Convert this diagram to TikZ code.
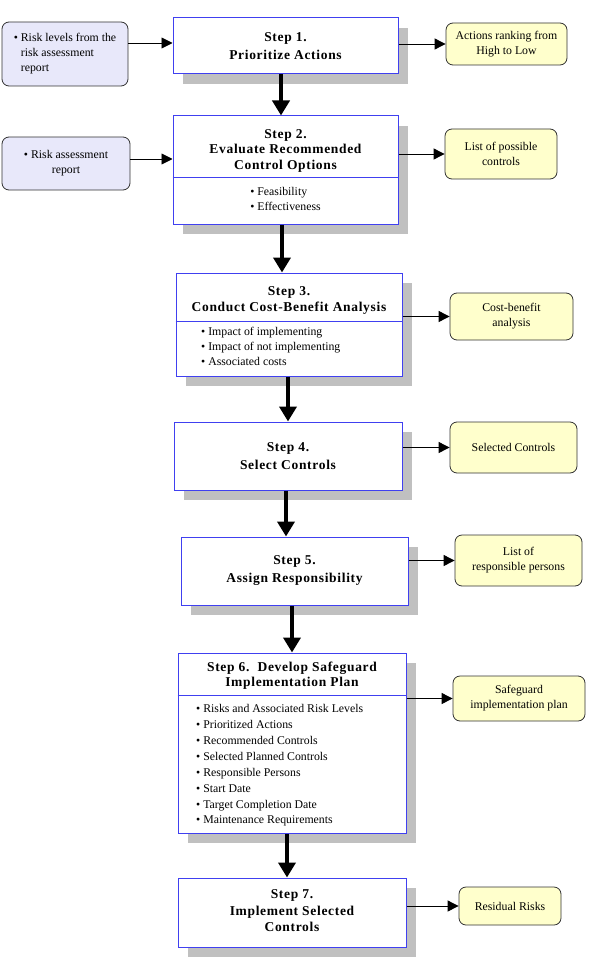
\documentclass[tikz,border=0pt]{standalone}
\usepackage{fontspec}
\setmainfont{Liberation Serif}
\usetikzlibrary{arrows.meta,shadows}
\definecolor{stepblue}{RGB}{64,64,240}
\definecolor{shadowgray}{RGB}{192,192,192}
\definecolor{infill}{RGB}{232,232,250}
\definecolor{outfill}{RGB}{255,255,204}
\definecolor{boxline}{RGB}{50,50,50}
\newfontfamily\titlefam[LetterSpace=5]{Liberation Serif}
\begin{document}
\begin{tikzpicture}[x=1pt,y=-1pt,
  stepbox/.style={draw=stepblue,line width=1pt,fill=white,inner sep=0pt,align=center,
    drop shadow={shadow xshift=10pt,shadow yshift=-10pt,fill=shadowgray,opacity=1}},
  titlefont/.style={font=\titlefam\fontsize{13.5}{#1}\selectfont\bfseries},
  titletext/.style={align=center,inner sep=0pt,font=\titlefam\fontsize{13.5}{#1}\selectfont\bfseries},
  listtext/.style={align=left,inner sep=0pt,font=\fontsize{11.8}{#1}\selectfont},
  inbox/.style={draw=boxline,line width=0.8pt,fill=infill,rounded corners=7pt,inner sep=0pt,
    font=\fontsize{11.8}{15}\selectfont},
  outbox/.style={draw=boxline,line width=0.8pt,fill=outfill,rounded corners=7pt,inner sep=0pt,
    align=center,font=\fontsize{11.8}{15}\selectfont},
  divider/.style={draw=stepblue,line width=1pt},
  bigarrow/.style={line width=4pt,-{Triangle[width=17pt,length=15pt]}},
  thinarrow/.style={line width=0.9pt,-{Triangle[width=11pt,length=11pt]}}
]
\useasboundingbox (0,0) rectangle (589,960);

% step boxes
\node[stepbox,minimum width=225pt,minimum height=56pt,titlefont=18] (s1) at (285.5,46) {Step 1.\\Prioritize Actions};
\node[stepbox,minimum width=225pt,minimum height=108pt] (s2) at (285.5,170) {};
\node[stepbox,minimum width=226pt,minimum height=103pt] (s3) at (289,324.5) {};
\node[stepbox,minimum width=228pt,minimum height=68pt,titlefont=18] (s4) at (288,456) {Step 4.\\Select Controls};
\node[stepbox,minimum width=227pt,minimum height=68pt,titlefont=18] (s5) at (294.5,571) {Step 5.\\Assign Responsibility};
\node[stepbox,minimum width=228pt,minimum height=180pt] (s6) at (292,743) {};
\node[stepbox,minimum width=228pt,minimum height=69pt] (s7) at (292,912.5) {};

% step contents
\node[titletext=15.5] (t2) at (285.5,150.5) {Step 2.\\Evaluate Recommended\\Control Options};
\draw[divider] (s2.west |- 0,178) -- (s2.east |- 0,178);
\node[listtext=15] (l2) at (285.5,198.5) {\textbullet\ Feasibility\\\textbullet\ Effectiveness};

\node[titletext=16] (t3) at (289,300) {Step 3.\\Conduct Cost-Benefit Analysis};
\draw[divider] (s3.west |- 0,321) -- (s3.east |- 0,321);
\node[listtext=15,anchor=west] (l3) at (201,346) {\textbullet\ Impact of implementing\\\textbullet\ Impact of not implementing\\\textbullet\ Associated costs};

\node[titletext=15] (t6) at (292,675.5) {Step 6.\ \ Develop Safeguard\\Implementation Plan};
\draw[divider] (s6.west |- 0,695) -- (s6.east |- 0,695);
\node[listtext=15.9,anchor=west] (l6) at (196,765.5) {\textbullet\ Risks and Associated Risk Levels\\\textbullet\ Prioritized Actions\\\textbullet\ Recommended Controls\\\textbullet\ Selected Planned Controls\\\textbullet\ Responsible Persons\\\textbullet\ Start Date\\\textbullet\ Target Completion Date\\\textbullet\ Maintenance Requirements};

\node[titletext=16.5] (t7) at (292,911) {Step 7.\\Implement Selected\\Controls};

% input boxes
\node[inbox,minimum width=126pt,minimum height=64pt,align=left] (in1) at (65,54) {\textbullet\ Risk levels from the\\\hphantom{\textbullet\ }risk assessment\\\hphantom{\textbullet\ }report};
\node[inbox,minimum width=128pt,minimum height=53pt,align=center] (in2) at (66,163.5) {\textbullet\ Risk assessment\\report};

% output boxes
\node[outbox,minimum width=121pt,minimum height=42pt] (o1) at (506.5,44) {Actions ranking from\\High to Low};
\node[outbox,minimum width=112pt,minimum height=50pt] (o2) at (501,154) {List of possible\\controls};
\node[outbox,minimum width=123pt,minimum height=47pt] (o3) at (511.5,316.5) {Cost-benefit\\analysis};
\node[outbox,minimum width=127pt,minimum height=51pt] (o4) at (513.5,447.5) {Selected Controls};
\node[outbox,minimum width=127pt,minimum height=51pt] (o5) at (518.5,560.5) {List of\\responsible persons};
\node[outbox,minimum width=132pt,minimum height=45pt] (o6) at (519,698.5) {Safeguard\\implementation plan};
\node[outbox,minimum width=102pt,minimum height=38pt] (o7) at (510,906) {Residual Risks};

% main flow arrows
\draw[bigarrow] ([xshift=-4.5pt]s1.south) -- ([xshift=-4.5pt]s2.north);
\draw[bigarrow] ([xshift=-3.5pt]s2.south) -- ([xshift=-7pt]s3.north);
\draw[bigarrow] ([xshift=-1pt]s3.south) -- (s4.north);
\draw[bigarrow] ([xshift=-2pt]s4.south) -- ([xshift=-8.5pt]s5.north);
\draw[bigarrow] ([xshift=-2.5pt]s5.south) -- (s6.north);
\draw[bigarrow] ([xshift=-5pt]s6.south) -- ([xshift=-5pt]s7.north);

% input arrows
\draw[thinarrow] ([yshift=3pt]s1.west -| in1.east) -- ([yshift=3pt]s1.west);
\draw[thinarrow] ([yshift=11pt]s2.west -| in2.east) -- ([yshift=11pt]s2.west);

% output arrows
\draw[thinarrow] (s1.east |- o1.west) -- (o1.west);
\draw[thinarrow] (s2.east |- o2.west) -- (o2.west);
\draw[thinarrow] (s3.east |- o3.west) -- (o3.west);
\draw[thinarrow] (s4.east |- o4.west) -- (o4.west);
\draw[thinarrow] (s5.east |- o5.west) -- (o5.west);
\draw[thinarrow] (s6.east |- o6.west) -- (o6.west);
\draw[thinarrow] (s7.east |- o7.west) -- (o7.west);
\end{tikzpicture}
\end{document}
